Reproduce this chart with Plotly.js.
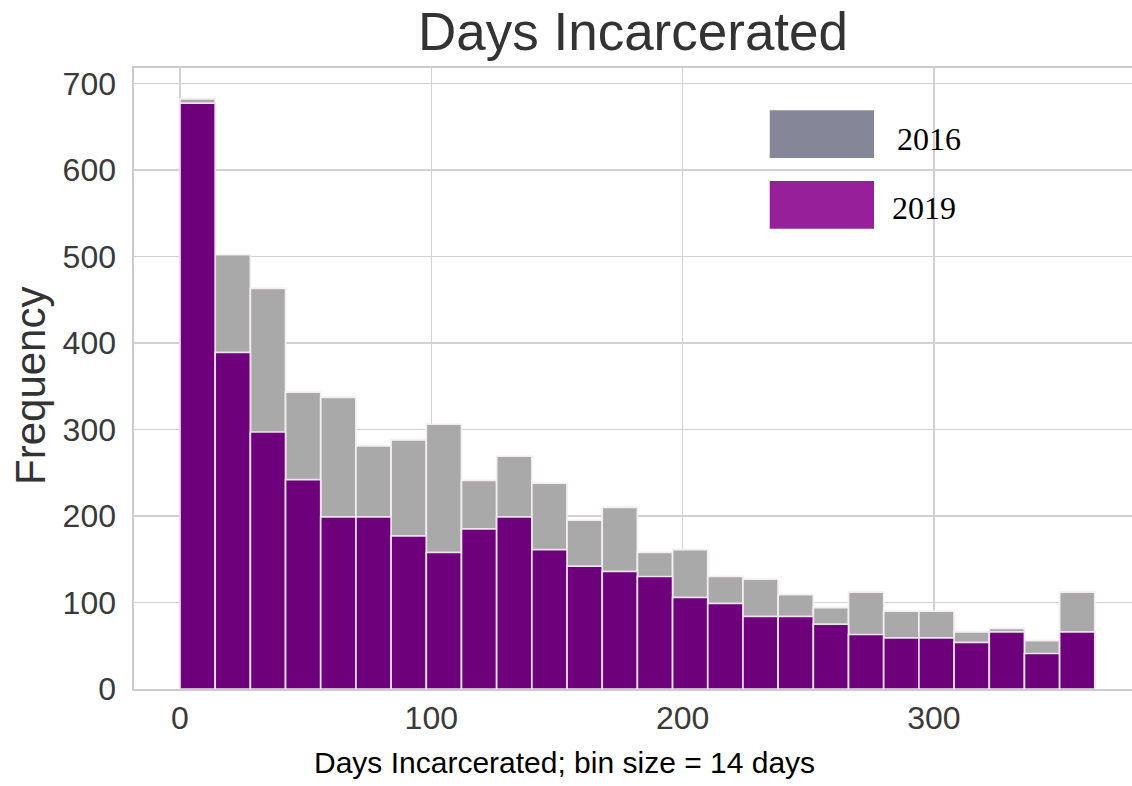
<!DOCTYPE html>
<html>
<head>
<meta charset="utf-8">
<script src="https://cdn.plot.ly/plotly-3.0.1.min.js"></script>
<style>html,body{margin:0;padding:0;background:#fff;}#chart{width:1132px;height:786px;}</style>
</head>
<body>
<div id="chart"></div>
<script>
// Histogram bins: start and width in days
const binStart = 0;
const binSize = 14;
// Frequencies per 14-day bin
const freq2016 = [682, 502, 463, 343, 337, 281, 288, 306, 241, 269, 238, 195, 210, 158, 161, 130, 127, 109, 94, 112, 90, 90, 66, 70, 56, 112];
const freq2019 = [677, 389, 297, 242, 199, 199, 177, 158, 185, 199, 161, 142, 136, 130, 106, 99, 84, 84, 75, 63, 59, 59, 54, 66, 41, 66];
const seriesNames = ["2016", "2019"];
const xTicks = [0, 100, 200, 300];
const yTicks = [0, 100, 200, 300, 400, 500, 600, 700];

const centers = freq2016.map((_, i) => binStart + binSize * i + binSize / 2);

const traces = [
  {type: "bar", name: seriesNames[0], x: centers, y: freq2016, width: binSize,
   marker: {color: "#a9a9a9", line: {color: "#f4eef4", width: 1.7}}, hoverinfo: "x+y"},
  {type: "bar", name: seriesNames[1], x: centers, y: freq2019, width: binSize,
   marker: {color: "#6e007c", line: {color: "#eee2ee", width: 1.7}}, hoverinfo: "x+y"}
];

const tickFont = {family: "Liberation Sans, Arial, sans-serif", size: 32, color: "#3a3a3a"};
const layout = {
  width: 1132, height: 786,
  margin: {l: 134, r: 0, t: 68, b: 97},
  paper_bgcolor: "#ffffff", plot_bgcolor: "#ffffff",
  barmode: "overlay",
  showlegend: false,
  title: {text: "Days Incarcerated", font: {family: "Liberation Sans, Arial, sans-serif", size: 53, color: "#333333"},
          xref: "paper", x: 0.5, xanchor: "center", yref: "container", y: 1 - 31/786, yanchor: "middle"},
  xaxis: {range: [-18.3, 378.8], tickvals: xTicks, ticktext: xTicks.map(String), tickfont: tickFont,
          showgrid: true, gridcolor: "#d2d2d2", gridwidth: 1.6, zeroline: false,
          showline: true, linecolor: "#cccccc", linewidth: 1.6, mirror: true, ticks: "", ticklabelstandoff: 0},
  yaxis: {range: [0, 717.7], tickvals: yTicks, ticktext: yTicks.map(String), tickfont: tickFont,
          showgrid: true, gridcolor: "#d2d2d2", gridwidth: 1.6, zeroline: false,
          showline: true, linecolor: "#cccccc", linewidth: 1.6, mirror: false, ticks: "", ticklabelstandoff: 10},
  shapes: [
    {type: "rect", xref: "paper", yref: "paper", x0: 0.637, x1: 0.7415, y0: 0.855, y1: 0.932, fillcolor: "#868699", line: {width: 0}},
    {type: "rect", xref: "paper", yref: "paper", x0: 0.637, x1: 0.7415, y0: 0.741, y1: 0.818, fillcolor: "#97209a", line: {width: 0}}
  ],
  annotations: [
    {text: seriesNames[0], xref: "paper", yref: "paper", x: 0.7625, y: 0.886, xanchor: "left", yanchor: "middle", showarrow: false,
     font: {family: "Liberation Serif, Times New Roman, serif", size: 32, color: "#000000"}},
    {text: seriesNames[1], xref: "paper", yref: "paper", x: 0.7575, y: 0.7746, xanchor: "left", yanchor: "middle", showarrow: false,
     font: {family: "Liberation Serif, Times New Roman, serif", size: 32, color: "#000000"}},
    {text: "Frequency", xref: "paper", yref: "paper", x: (31 - 134) / 998, y: 0.488, xanchor: "center", yanchor: "middle",
     textangle: -90, showarrow: false, font: {family: "Liberation Sans, Arial, sans-serif", size: 42, color: "#333333"}},
    {text: "Days Incarcerated; bin size = 14 days", xref: "paper", yref: "paper", x: (564 - 134) / 998, y: (689 - 762) / 621,
     xanchor: "center", yanchor: "middle", showarrow: false, font: {family: "Liberation Sans, Arial, sans-serif", size: 30, color: "#000000"}}
  ]
};

Plotly.newPlot("chart", traces, layout, {displayModeBar: false, staticPlot: true});
</script>
</body>
</html>
